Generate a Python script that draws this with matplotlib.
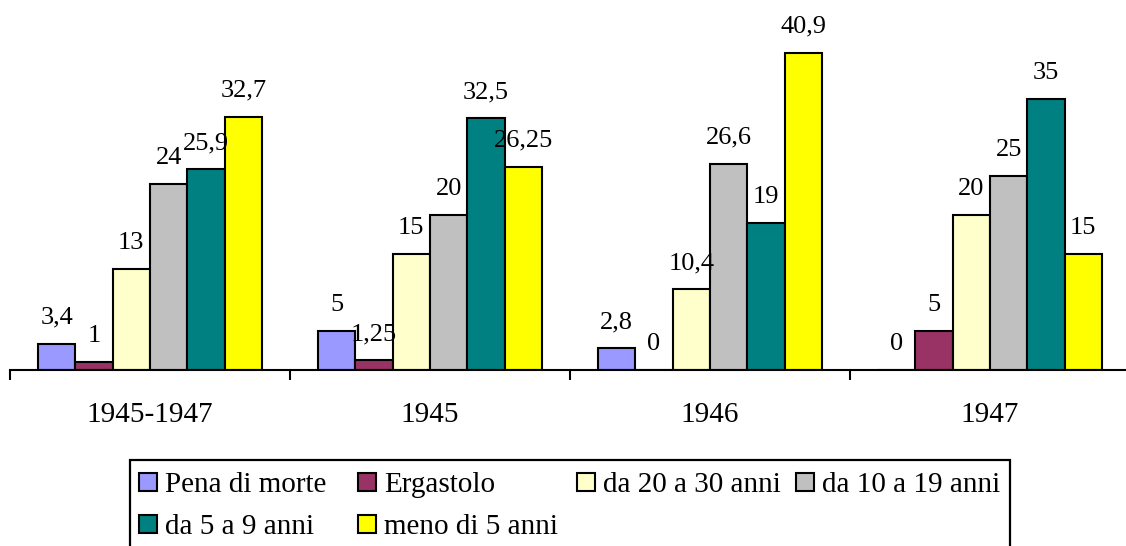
import numpy as np
import matplotlib
matplotlib.use("Agg")
import matplotlib.pyplot as plt
from matplotlib.patches import Rectangle

plt.rcParams["font.family"] = ["Liberation Serif", "DejaVu Serif"]

# Sentence shares (%) by period and type of sentence
periods = ["1945-1947", "1945", "1946", "1947"]
series = ["Pena di morte", "Ergastolo", "da 20 a 30 anni",
          "da 10 a 19 anni", "da 5 a 9 anni", "meno di 5 anni"]
pena_di_morte = [3.4, 5, 2.8, 0]
ergastolo = [1, 1.25, 0, 5]
da_20_a_30 = [13, 15, 10.4, 20]
da_10_a_19 = [24, 20, 26.6, 25]
da_5_a_9 = [25.9, 32.5, 19, 35]
meno_di_5 = [32.7, 26.25, 40.9, 15]
colors = ["#9999FF", "#993366", "#FFFFCC", "#C0C0C0", "#008080", "#FFFF00"]

values = [pena_di_morte, ergastolo, da_20_a_30, da_10_a_19, da_5_a_9, meno_di_5]


def fmt(v):
    return "{:g}".format(v).replace(".", ",")


W, H = 1126, 546


def px(x, y):
    """pixel position (from top-left) -> figure fraction"""
    return x / W, 1 - y / H


fig = plt.figure(figsize=(W / 100, H / 100), dpi=100)
ax = fig.add_axes([10 / W, 1 - 370 / H, 1120 / W, 370 / H])

x = np.arange(len(periods))
n = len(series)
bw = 0.8 / n
for i, (name, vals, c) in enumerate(zip(series, values, colors)):
    pos = x - 0.4 + bw * (i + 0.5)
    ax.bar(pos, vals, width=bw, color=c, edgecolor="black",
           linewidth=1.5, label=name, zorder=2)
    for xp, v in zip(pos, vals):
        ax.annotate(fmt(v), (xp, v), xytext=(0, 14.5),
                    textcoords="offset points", ha="center",
                    va="baseline", fontsize=19)

ax.set_xlim(-0.5, 3.5)
ax.set_ylim(0, 47.74)

for side in ["top", "left", "right"]:
    ax.spines[side].set_visible(False)
ax.spines["bottom"].set_linewidth(1.5)
ax.spines["bottom"].set_zorder(3)
ax.set_yticks([])

ax.set_xticks(x)
ax.set_xticklabels(periods, fontsize=21)
ax.set_xticks(np.arange(len(periods) + 1) - 0.5, minor=True)
ax.tick_params(axis="x", which="major", length=0, pad=23)
ax.tick_params(axis="x", which="minor", length=7, width=1.5,
               direction="out")

# legend box with equal-width columns, 4 per row (bottom runs off the page)
fx, fy = px(130, 460)
fig.add_artist(Rectangle((fx, fy), (1010 - 130) / W, -110 / H,
                         transform=fig.transFigure, facecolor="white",
                         edgecolor="black", linewidth=1.6, clip_on=False))
col_w, row_h = 219, 41.5
msize = 18
for k, (name, c) in enumerate(zip(series, colors)):
    row, col = divmod(k, 4)
    x0 = 139 + col_w * col
    yc = 482 + row_h * row
    mx, my = px(x0, yc + msize / 2)
    fig.add_artist(Rectangle((mx, my), msize / W, msize / H,
                             transform=fig.transFigure, facecolor=c,
                             edgecolor="black", linewidth=1.5))
    tx, ty = px(x0 + msize + 8, yc + 10)
    fig.text(tx, ty, name, fontsize=21, ha="left", va="baseline")

fig.savefig("out.png", dpi=100)
